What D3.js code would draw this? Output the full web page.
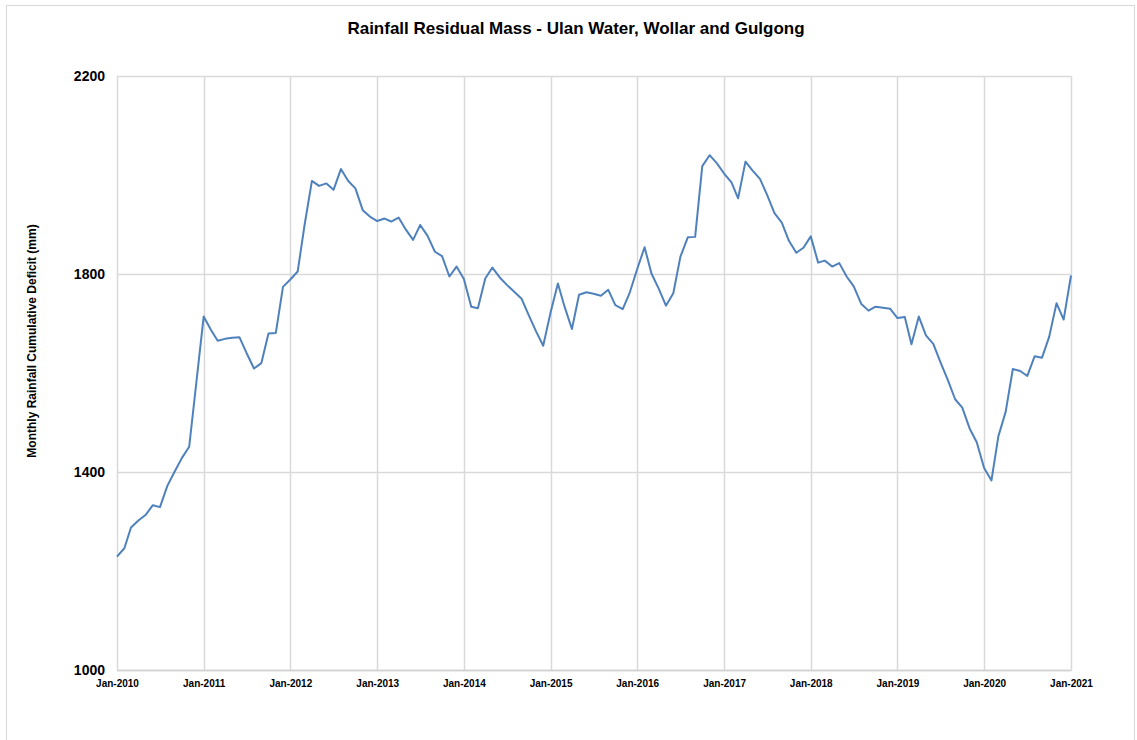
<!DOCTYPE html>
<html>
<head>
<meta charset="utf-8">
<script src="https://cdn.jsdelivr.net/npm/d3@7"></script>
<style>
  html, body { margin: 0; padding: 0; background: #fff; }
  svg { display: block; font-family: "Liberation Sans", Arial, sans-serif; }
</style>
</head>
<body>
<svg id="chart" width="1137" height="740"></svg>
<script>
// ---- Data ----
const startYear = 2010;
const startMonth = 0; // January
const values = [
  1229, 1246, 1288, 1302, 1313, 1333, 1329, 1372, 1401, 1428, 1451, 1580,
  1714, 1687, 1665, 1669, 1671, 1672, 1640, 1609, 1620, 1680, 1681, 1774,
  1789, 1805, 1899, 1988, 1978, 1983, 1970, 2012, 1988, 1973, 1929, 1916,
  1907, 1912, 1906, 1914, 1890, 1869, 1899, 1877, 1845, 1836, 1795, 1815,
  1790, 1734, 1731, 1791, 1813, 1793, 1778, 1764, 1750, 1717, 1684, 1655,
  1722, 1781, 1734, 1689, 1758, 1763, 1760, 1756, 1768, 1737, 1729, 1763,
  1810, 1854, 1801, 1770, 1736, 1761, 1835, 1874, 1875, 2018, 2040, 2024,
  2003, 1985, 1953, 2027, 2009, 1992, 1960, 1923, 1904, 1867, 1843, 1853,
  1876, 1823, 1827, 1815, 1822, 1795, 1775, 1740, 1726, 1734, 1732, 1730,
  1711, 1713, 1658, 1714, 1676, 1659, 1622, 1586, 1547, 1530, 1488, 1460,
  1408, 1383, 1472, 1522, 1608, 1604, 1594, 1634, 1631, 1673, 1741, 1708,
  1797
];
const yTicks = [1000, 1400, 1800, 2200];
const xTickYears = [2010, 2011, 2012, 2013, 2014, 2015, 2016, 2017, 2018, 2019, 2020, 2021];
const title = "Rainfall Residual Mass - Ulan Water, Wollar and Gulgong";
const yTitle = "Monthly Rainfall Cumulative Deficit (mm)";

const data = values.map((v, i) => ({ date: new Date(startYear, startMonth + i, 1), value: v }));

// ---- Layout ----
const svg = d3.select("#chart");
const W = 1137, H = 740;
const margin = { left: 117, right: 1137 - 1071, top: 76, bottom: 740 - 670 };

const x = d3.scaleTime()
  .domain([new Date(2010, 0, 1), new Date(2021, 0, 1)])
  .range([margin.left, W - margin.right]);
const y = d3.scaleLinear()
  .domain([1000, 2200])
  .range([H - margin.bottom, margin.top]);

// outer frame
svg.append("rect")
  .attr("x", 6.5).attr("y", 5.5)
  .attr("width", 1128).attr("height", 760)
  .attr("fill", "none").attr("stroke", "#d9d9d9").attr("stroke-width", 1);

// title
svg.append("text")
  .attr("x", 576).attr("y", 34)
  .attr("text-anchor", "middle")
  .attr("font-size", "17px").attr("font-weight", "bold")
  .attr("fill", "#000")
  .text(title);

// horizontal grid
svg.append("g")
  .selectAll("line")
  .data(yTicks)
  .join("line")
  .attr("x1", margin.left).attr("x2", W - margin.right)
  .attr("y1", d => Math.round(y(d)) + 0.5).attr("y2", d => Math.round(y(d)) + 0.5)
  .attr("stroke", "#d9d9d9").attr("stroke-width", 1.5);

// vertical grid
const xTickDates = xTickYears.map(yr => new Date(yr, 0, 1));
svg.append("g")
  .selectAll("line")
  .data(xTickDates)
  .join("line")
  .attr("x1", d => Math.round(x(d)) + 0.5).attr("x2", d => Math.round(x(d)) + 0.5)
  .attr("y1", margin.top).attr("y2", H - margin.bottom)
  .attr("stroke", "#d9d9d9").attr("stroke-width", 1.5);

// y axis labels
const yAxis = d3.axisLeft(y).tickValues(yTicks).tickSize(0).tickPadding(12).tickFormat(d3.format("d"));
const gy = svg.append("g").attr("transform", `translate(${margin.left},0)`).call(yAxis);
gy.select(".domain").remove();
gy.selectAll("text")
  .attr("font-family", "'Liberation Sans', Arial, sans-serif")
  .attr("font-size", "14px").attr("font-weight", "bold").attr("fill", "#000");

// x axis labels
const fmt = d3.timeFormat("%b-%Y");
const xAxis = d3.axisBottom(x).tickValues(xTickDates).tickSize(0).tickPadding(10).tickFormat(fmt);
const gx = svg.append("g").attr("transform", `translate(0,${H - margin.bottom})`).call(xAxis);
gx.select(".domain").attr("stroke", "#d0d0d0").attr("stroke-width", 1.5);
gx.selectAll("text")
  .attr("font-family", "'Liberation Sans', Arial, sans-serif")
  .attr("font-size", "10px").attr("font-weight", "bold").attr("fill", "#000");

// y title
svg.append("text")
  .attr("transform", `translate(36,341) rotate(-90)`)
  .attr("text-anchor", "middle")
  .attr("font-size", "12px").attr("font-weight", "bold")
  .attr("fill", "#000")
  .text(yTitle);

// line
const line = d3.line().x(d => x(d.date)).y(d => y(d.value));
svg.append("path")
  .datum(data)
  .attr("d", line)
  .attr("fill", "none")
  .attr("stroke", "#4f81bd")
  .attr("stroke-width", 2)
  .attr("stroke-linejoin", "round");
</script>
</body>
</html>
